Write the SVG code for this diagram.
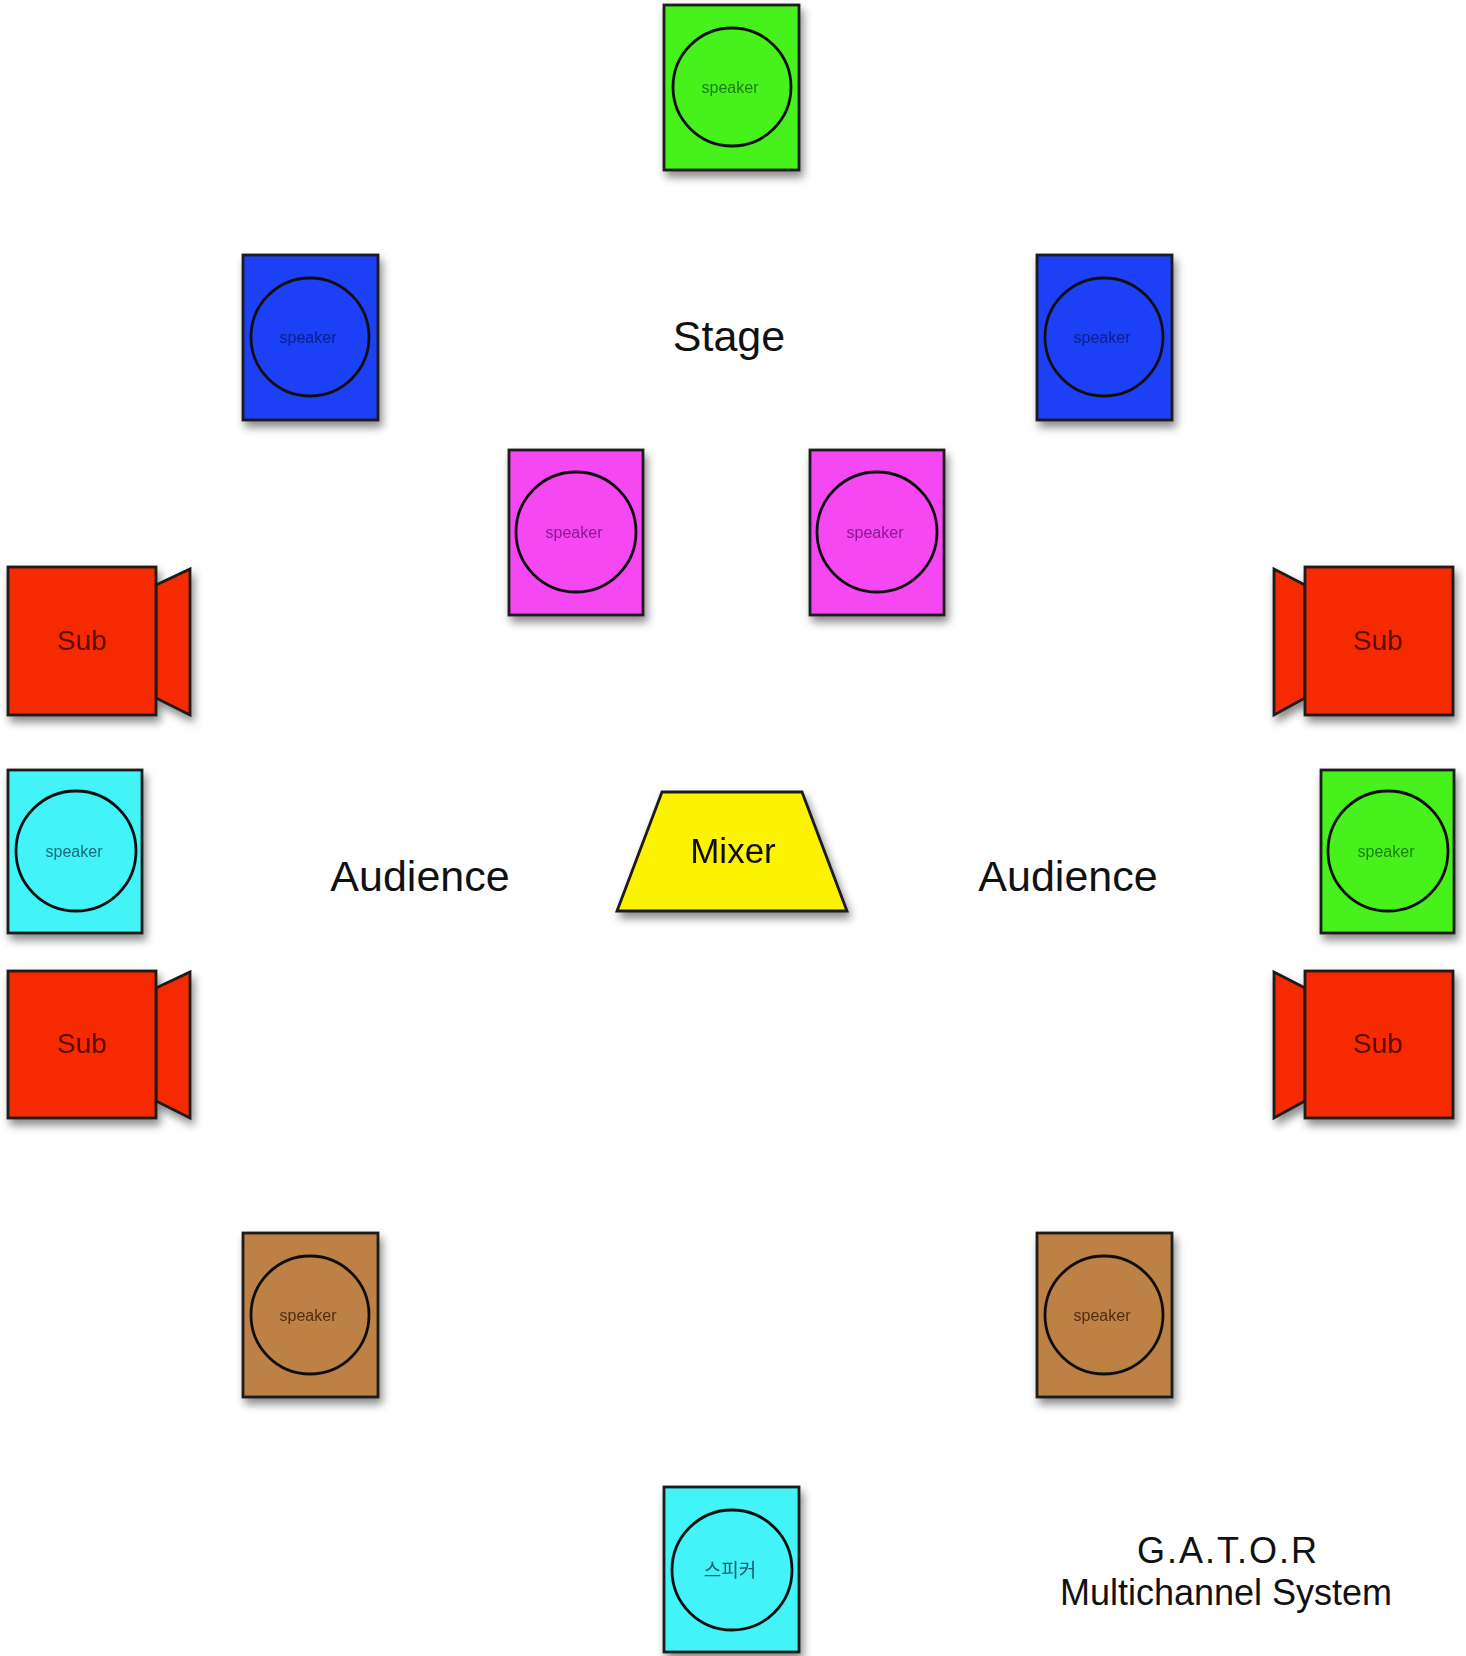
<svg xmlns="http://www.w3.org/2000/svg" width="1466" height="1656" viewBox="0 0 1466 1656">
<defs>
<filter id="sh" x="-20%" y="-20%" width="150%" height="150%">
<feDropShadow dx="3" dy="6" stdDeviation="4" flood-color="#000" flood-opacity="0.45"/>
</filter>
</defs>
<style>
.box{stroke:#1a1a1a;stroke-width:2.8}
.cone{fill:none;stroke:#111;stroke-width:2.8}
.spk{font-family:"Liberation Sans",Arial,sans-serif;font-size:16px;text-anchor:middle}
.lbl{font-family:"Liberation Sans",Arial,sans-serif;text-anchor:middle;fill:#111}
.sub{font-family:"Liberation Sans",Arial,sans-serif;font-size:28px;text-anchor:middle;fill:#5a0800}
.green{fill:#47f21c}.blue{fill:#1c3ff5}.pink{fill:#f547f2}.cyan{fill:#42f3f7}.brown{fill:#bd8044}.red{fill:#f52b02}
</style>
<rect width="1466" height="1656" fill="#ffffff"/>
<g id="connectors"/>
<g id="speaker-top" filter="url(#sh)">
<rect class="box green" x="664" y="5" width="135" height="165"/>
<circle class="cone" cx="732" cy="87" r="59"/>
<text class="spk" x="730" y="93" fill="#1f8010">speaker</text>
</g>
<g id="speaker-blue-left" filter="url(#sh)">
<rect class="box blue" x="243" y="255" width="135" height="165"/>
<circle class="cone" cx="310" cy="337" r="59"/>
<text class="spk" x="308" y="343" fill="#0d208f">speaker</text>
</g>
<g id="speaker-blue-right" filter="url(#sh)">
<rect class="box blue" x="1037" y="255" width="135" height="165"/>
<circle class="cone" cx="1104" cy="337" r="59"/>
<text class="spk" x="1102" y="343" fill="#0d208f">speaker</text>
</g>
<g id="speaker-pink-left" filter="url(#sh)">
<rect class="box pink" x="509" y="450" width="134" height="165"/>
<circle class="cone" cx="576" cy="532" r="60"/>
<text class="spk" x="574" y="538" fill="#8a1a8c">speaker</text>
</g>
<g id="speaker-pink-right" filter="url(#sh)">
<rect class="box pink" x="810" y="450" width="134" height="165"/>
<circle class="cone" cx="877" cy="532" r="60"/>
<text class="spk" x="875" y="538" fill="#8a1a8c">speaker</text>
</g>
<g id="sub-left-1" filter="url(#sh)">
<polygon class="box red" points="156,585 190,569 190,715 156,698"/>
<rect class="box red" x="8" y="567" width="148" height="148"/>
<text class="sub" x="82" y="650">Sub</text>
</g>
<g id="sub-right-1" filter="url(#sh)">
<polygon class="box red" points="1305,585 1274,569 1274,715 1305,698"/>
<rect class="box red" x="1305" y="567" width="148" height="148"/>
<text class="sub" x="1378" y="650">Sub</text>
</g>
<g id="speaker-cyan-left" filter="url(#sh)">
<rect class="box cyan" x="8" y="770" width="134" height="163"/>
<circle class="cone" cx="76" cy="851" r="60"/>
<text class="spk" x="74" y="857" fill="#1a6a78">speaker</text>
</g>
<g id="speaker-green-right" filter="url(#sh)">
<rect class="box green" x="1321" y="770" width="133" height="163"/>
<circle class="cone" cx="1388" cy="851" r="60"/>
<text class="spk" x="1386" y="857" fill="#1f8010">speaker</text>
</g>
<g id="mixer" filter="url(#sh)">
<polygon class="box" fill="#fbf306" points="662,792 802,792 847,911 617,911"/>
<text class="lbl" x="733" y="863" font-size="35">Mixer</text>
</g>
<g id="sub-left-2" filter="url(#sh)">
<polygon class="box red" points="156,988 190,972 190,1118 156,1101"/>
<rect class="box red" x="8" y="971" width="148" height="147"/>
<text class="sub" x="82" y="1053">Sub</text>
</g>
<g id="sub-right-2" filter="url(#sh)">
<polygon class="box red" points="1305,988 1274,972 1274,1118 1305,1101"/>
<rect class="box red" x="1305" y="971" width="148" height="147"/>
<text class="sub" x="1378" y="1053">Sub</text>
</g>
<g id="speaker-brown-left" filter="url(#sh)">
<rect class="box brown" x="243" y="1233" width="135" height="164"/>
<circle class="cone" cx="310" cy="1315" r="59"/>
<text class="spk" x="308" y="1321" fill="#4f2e10">speaker</text>
</g>
<g id="speaker-brown-right" filter="url(#sh)">
<rect class="box brown" x="1037" y="1233" width="135" height="164"/>
<circle class="cone" cx="1104" cy="1315" r="59"/>
<text class="spk" x="1102" y="1321" fill="#4f2e10">speaker</text>
</g>
<g id="speaker-bottom" filter="url(#sh)">
<rect class="box cyan" x="664" y="1487" width="135" height="165"/>
<circle class="cone" cx="732" cy="1570" r="60"/>
<text class="spk" x="730" y="1577" style="font-family:'Liberation Sans','Noto Sans CJK KR',sans-serif;font-size:19px" fill="#1a5a68">스피커</text>
</g>
<g id="labels">
<text class="lbl" x="729" y="351" font-size="43">Stage</text>
<text class="lbl" x="420" y="891" font-size="43">Audience</text>
<text class="lbl" x="1068" y="891" font-size="43">Audience</text>
<text class="lbl" x="1228" y="1563" font-size="36" letter-spacing="2">G.A.T.O.R</text>
<text class="lbl" x="1226" y="1605" font-size="36">Multichannel System</text>
</g>
</svg>
